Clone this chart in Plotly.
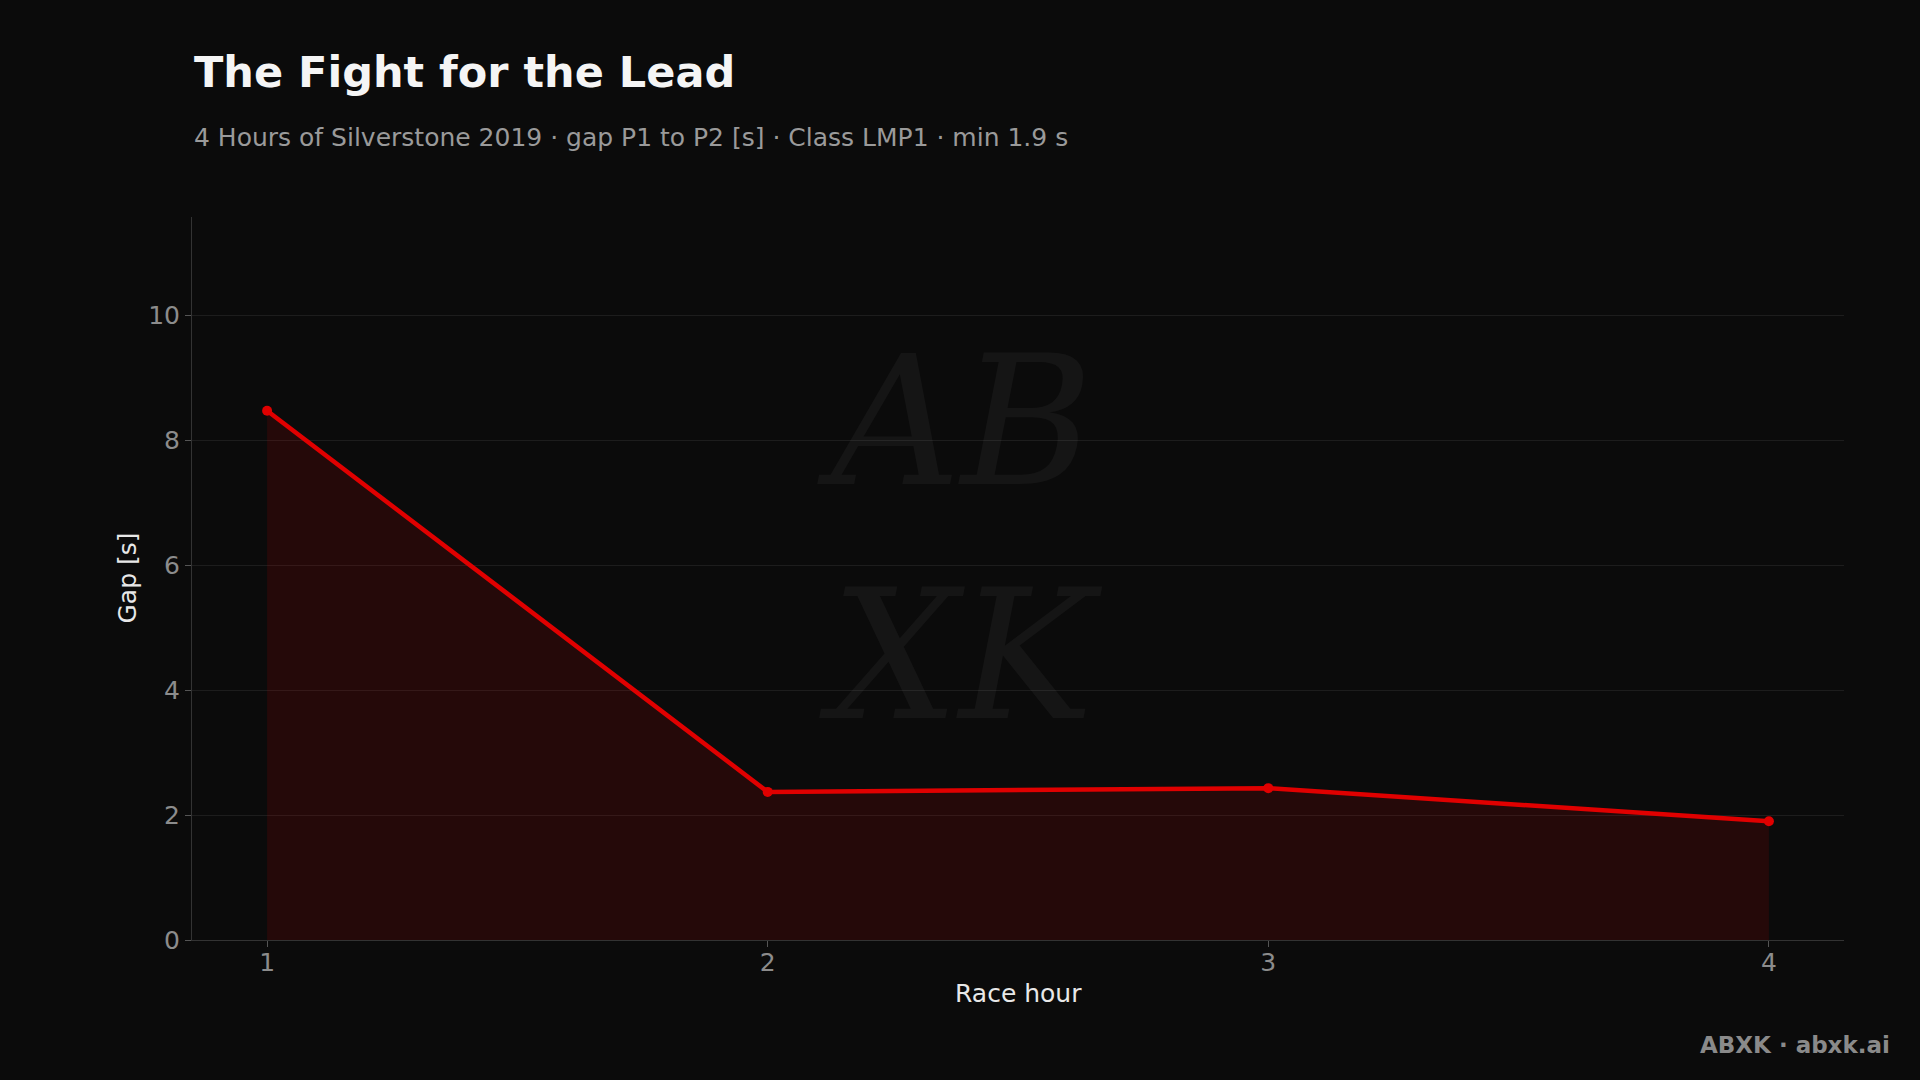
import plotly.graph_objects as go

race_hour = [1, 2, 3, 4]
gap_s = [8.47, 2.37, 2.43, 1.90]
y_ticks = [0, 2, 4, 6, 8, 10]
x_ticks = [1, 2, 3, 4]

title_text = "The Fight for the Lead"
subtitle_text = "4 Hours of Silverstone 2019 · gap P1 to P2 [s] · Class LMP1 · min 1.9 s"
footer_text = "ABXK · abxk.ai"
x_title = "Race hour"
y_title = "Gap [s]"

BG = "#0b0b0b"
RED = "#e00000"

fig = go.Figure()
fig.add_trace(go.Scatter(
    x=race_hour, y=gap_s, mode="lines+markers",
    line=dict(color=RED, width=4.5),
    marker=dict(color=RED, size=10),
    fill="tozeroy", fillcolor="rgba(220,0,0,0.13)",
    showlegend=False, hoverinfo="x+y",
))

fig.update_layout(
    width=1920, height=1080,
    paper_bgcolor=BG, plot_bgcolor=BG,
    margin=dict(l=192, r=76, t=217, b=140),
    font=dict(family="DejaVu Sans", color="#8c8c8c"),
    xaxis=dict(
        range=[0.85, 4.15], tickvals=x_ticks, ticktext=[str(v) for v in x_ticks],
        showgrid=False, zeroline=False, showline=True, linecolor="#333333", linewidth=1,
        ticks="outside", ticklen=6, tickcolor="#555555", tickwidth=1,
        ticklabelstandoff=-6,
        tickfont=dict(size=25, color="#8c8c8c"),
    ),
    yaxis=dict(
        range=[0, 11.57], tickvals=y_ticks,
        showgrid=True, gridcolor="#1d1d1d", gridwidth=1, zeroline=False,
        showline=True, linecolor="#333333", linewidth=1,
        ticks="outside", ticklen=6, tickcolor="#555555", tickwidth=1,
        tickfont=dict(size=25, color="#8c8c8c"),
    ),
    annotations=[
        dict(text="<i>AB<br>XK</i>", xref="paper", yref="paper", x=0.465, y=0.555,
             xanchor="center", yanchor="middle", showarrow=False,
             font=dict(size=180, color="rgba(255,255,255,0.045)", family="DejaVu Serif")),
        dict(text="<b>" + title_text + "</b>", xref="paper", yref="paper",
             x=0, y=1, yshift=217 - 72, xanchor="left", yanchor="middle",
             showarrow=False, font=dict(size=43, color="#f5f5f5", family="DejaVu Sans")),
        dict(text=subtitle_text, xref="paper", yref="paper",
             x=0, y=1, yshift=217 - 137, xanchor="left", yanchor="middle",
             showarrow=False, font=dict(size=25, color="#9a9a9a", family="DejaVu Sans")),
        dict(text=x_title, xref="paper", yref="paper",
             x=0.5, y=0, yshift=-(993 - 940), xanchor="center", yanchor="middle",
             showarrow=False, font=dict(size=25, color="#e8e8e8", family="DejaVu Sans")),
        dict(text=y_title, xref="paper", yref="paper", textangle=-90,
             x=0, y=0.5, xshift=127 - 192, xanchor="center", yanchor="middle",
             showarrow=False, font=dict(size=25, color="#e8e8e8", family="DejaVu Sans")),
        dict(text="<b>" + footer_text + "</b>", xref="paper", yref="paper",
             x=1, y=0, xshift=48, yshift=-(1045 - 940), xanchor="right", yanchor="middle",
             showarrow=False, font=dict(size=23, color="#8a8a8a", family="DejaVu Sans")),
    ],
)

fig.write_html("out.html", config={"displayModeBar": False},
               post_script="document.body.style.margin='0';document.body.style.background='#0b0b0b';")
